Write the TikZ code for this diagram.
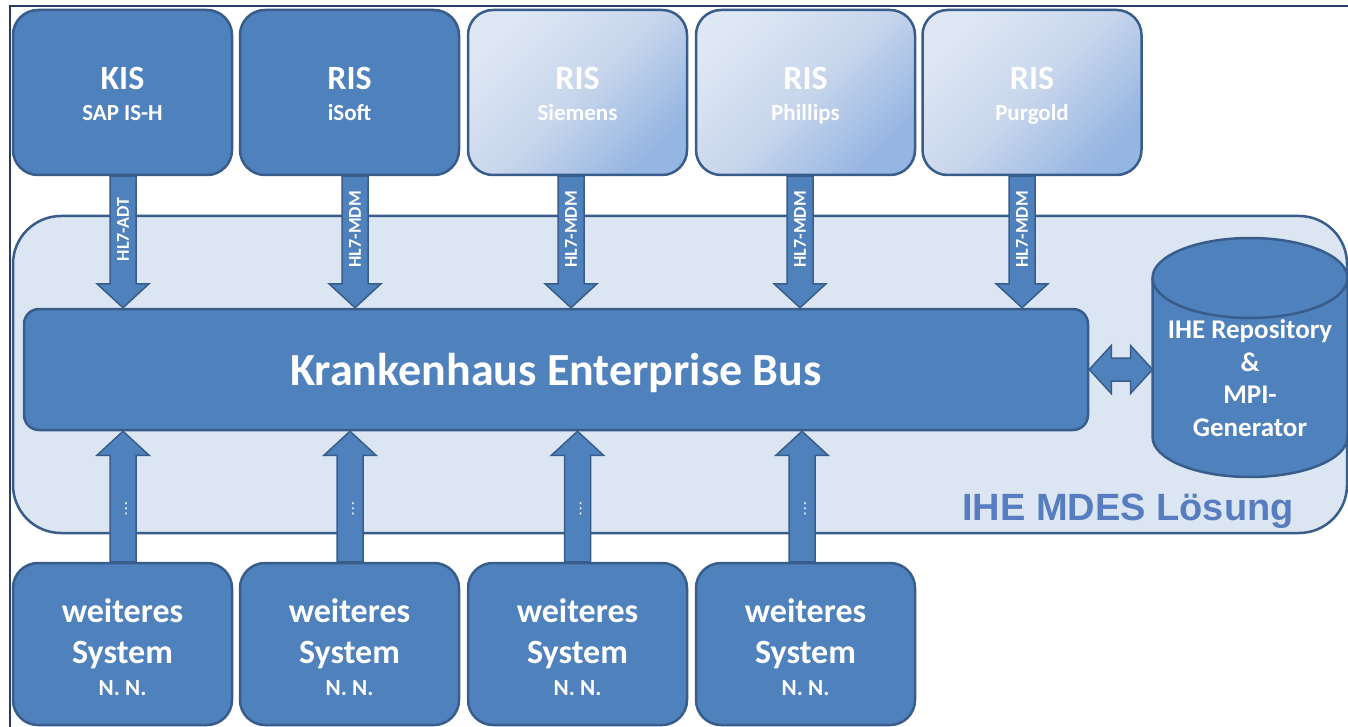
\documentclass[tikz,border=0pt]{standalone}
\usepackage{fontspec}
\setmainfont{Carlito}
\newfontfamily\arialfont{Liberation Sans}
\newfontfamily\dejavu{DejaVu Sans}
\usetikzlibrary{calc}
\definecolor{mainc}{RGB}{79,129,189}
\definecolor{bordc}{RGB}{56,93,138}
\definecolor{contc}{RGB}{220,230,242}
\definecolor{lightA}{RGB}{222,231,244}
\definecolor{lightM}{RGB}{200,214,236}
\definecolor{lightB}{RGB}{149,181,226}
\definecolor{mdesc}{RGB}{88,124,192}
\definecolor{framec}{RGB}{40,60,100}

\newcommand\kebdown[4]{%
  \draw[blockarrow] let \p1=([xshift=#3]#1.south), \p2=(#2.north) in
    (\x1-13pt,\y1) -- (\x1+13pt,\y1) -- (\x1+13pt,\y2+24pt) -- (\x1+26pt,\y2+24pt)
    -- (\x1,\y2) -- (\x1-26pt,\y2+24pt) -- (\x1-13pt,\y2+24pt) -- cycle;
  \node[arrowlabel] at ([xshift=#3,yshift=-53pt]#1.south) {#4};
}
\newcommand\kebup[3]{%
  \draw[blockarrow] let \p1=([xshift=#3]#1.north), \p2=(#2.south) in
    (\x1-13pt,\y1) -- (\x1+13pt,\y1) -- (\x1+13pt,\y2-24pt) -- (\x1+26pt,\y2-24pt)
    -- (\x1,\y2) -- (\x1-26pt,\y2-24pt) -- (\x1-13pt,\y2-24pt) -- cycle;
  \node[dotlabel] at ([xshift=#3+3pt,yshift=53pt]#1.north) {⋮};
}

\begin{document}
\begin{tikzpicture}[x=1pt,y=-1pt,
  sysbox/.style={rectangle, rounded corners=25pt, draw=bordc, line width=2.5pt,
    fill=mainc, minimum width=219pt, minimum height=165pt, inner sep=0pt},
  lightbox/.style={sysbox, top color=lightA, bottom color=lightB, middle color=lightM, shading angle=45},
  lowbox/.style={sysbox, minimum height=162pt},
  container/.style={rectangle, rounded corners=48pt, draw=bordc, fill=contc, line width=2.5pt,
    minimum width=1334pt, minimum height=317pt, inner sep=0pt},
  busbox/.style={rectangle, rounded corners=15pt, draw=bordc, fill=mainc, line width=2.5pt,
    minimum width=1064pt, minimum height=121pt, inner sep=0pt},
  cyl/.style={draw=bordc, fill=mainc, line width=2.5pt},
  titletext/.style={text=white, font=\bfseries\fontsize{34}{38}\selectfont, anchor=base, inner sep=0pt},
  subtext/.style={text=white, font=\bfseries\fontsize{23}{26}\selectfont, anchor=base, inner sep=0pt},
  arrowlabel/.style={text=white, font=\bfseries\fontsize{18}{20}\selectfont, rotate=90, inner sep=0pt},
  dotlabel/.style={text=white, font=\dejavu\fontsize{15}{17}\selectfont, inner sep=0pt},
  blockarrow/.style={fill=mainc, draw=bordc, line width=1.5pt, line join=miter},
]
\useasboundingbox (0,0) rectangle (1348,727);
\fill[white] (0,0) rectangle (1348,727);
\draw[framec, line width=1.2pt] (10,727) -- (10,6) -- (1348,6);

% container
\node[container] (mdes) at (680,374.5) {};
\node[text=mdesc, font=\arialfont\bfseries\fontsize{38}{40}\selectfont, anchor=base, inner sep=0pt]
  (mdeslabel) at (1128,520) {IHE MDES Lösung};

% bus
\node[busbox] (bus) at (556,369.5) {};
\node[text=white, font=\bfseries\fontsize{46}{50}\selectfont, anchor=base, inner sep=0pt]
  (bustext) at ([yshift=-16pt]bus.center) {Krankenhaus Enterprise Bus};

% repository (cylinder)
\node[minimum width=195pt, minimum height=239pt, inner sep=0pt, outer sep=0pt] (repo) at (1250,357.5) {};
\draw[cyl] let \p1=(repo.north west), \p2=(repo.south east) in
  (\x1,\y1-40pt) -- (\x1,\y2+40pt)
  arc[start angle=180, end angle=360, x radius=97.5pt, y radius=40pt]
  -- (\x2,\y1-40pt)
  arc[start angle=0, end angle=180, x radius=97.5pt, y radius=40pt] -- cycle;
\draw[cyl, fill=none] let \p1=(repo.north west) in
  (\x1,\y1-40pt) arc[start angle=180, end angle=360, x radius=97.5pt, y radius=40pt];
\node[text=white, font=\bfseries\fontsize{27}{32.7}\selectfont, align=center, inner sep=0pt]
  (repotext) at (1250,378) {IHE Repository\\\&\\MPI-\\Generator};

% top systems
\node[sysbox] (kis) at (122.5,92.5) {};
\node[sysbox] (isoft) at (349.5,92.5) {};
\node[lightbox] (siemens) at (577.5,92.5) {};
\node[lightbox] (phillips) at (805.5,92.5) {};
\node[lightbox] (purgold) at (1032,92.5) {};

\node[titletext] (kis1) at ([yshift=2.5pt]kis.center) {KIS};
\node[subtext] (kis2) at ([yshift=-28.5pt]kis.center) {SAP IS-H};
\node[titletext] (isoft1) at ([yshift=2.5pt]isoft.center) {RIS};
\node[subtext] (isoft2) at ([yshift=-28.5pt]isoft.center) {iSoft};
\node[titletext] (siemens1) at ([yshift=2.5pt]siemens.center) {RIS};
\node[subtext] (siemens2) at ([yshift=-28.5pt]siemens.center) {Siemens};
\node[titletext] (phillips1) at ([yshift=2.5pt]phillips.center) {RIS};
\node[subtext] (phillips2) at ([yshift=-28.5pt]phillips.center) {Phillips};
\node[titletext] (purgold1) at ([yshift=2.5pt]purgold.center) {RIS};
\node[subtext] (purgold2) at ([yshift=-28.5pt]purgold.center) {Purgold};

% bottom systems
\foreach \n/\x in {s1/122.5, s2/349.5, s3/577.5, s4/805.5}{
  \node[lowbox] (\n) at (\x,644) {};
  \node[titletext] (\n a) at ([yshift=22pt]\n.center) {weiteres};
  \node[titletext] (\n b) at ([yshift=-19pt]\n.center) {System};
  \node[subtext] (\n c) at ([yshift=-51pt]\n.center) {N. N.};
}

% arrows
\kebdown{kis}{bus}{0.5pt}{HL7-ADT}
\kebdown{isoft}{bus}{5.5pt}{HL7-MDM}
\kebdown{siemens}{bus}{-6.5pt}{HL7-MDM}
\kebdown{phillips}{bus}{-5.5pt}{HL7-MDM}
\kebdown{purgold}{bus}{-10pt}{HL7-MDM}

\kebup{s1}{bus}{0.5pt}
\kebup{s2}{bus}{0.5pt}
\kebup{s3}{bus}{0pt}
\kebup{s4}{bus}{-3.5pt}

% double arrow bus <-> repository
\draw[blockarrow] let \p1=(bus.east), \p2=(repo.west) in
  (\x1,\y1) -- (\x1+22pt,\y1+24pt) -- (\x1+22pt,\y1+11.5pt) -- (\x2-22pt,\y1+11.5pt)
  -- (\x2-22pt,\y1+24pt) -- (\x2,\y1) -- (\x2-22pt,\y1-24pt) -- (\x2-22pt,\y1-11.5pt)
  -- (\x1+22pt,\y1-11.5pt) -- (\x1+22pt,\y1-24pt) -- cycle;
\end{tikzpicture}
\end{document}
